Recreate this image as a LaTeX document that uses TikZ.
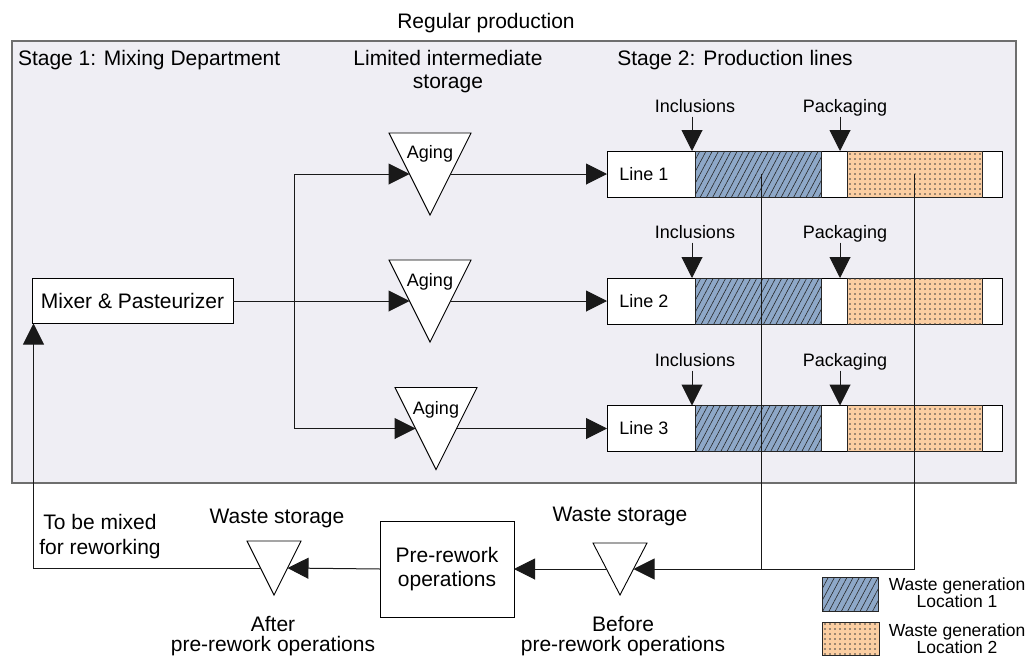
\documentclass[tikz,border=0pt]{standalone}
\usepackage{fontspec}
\setmainfont{Liberation Sans}
\usetikzlibrary{arrows.meta,calc,patterns.meta}

\definecolor{panelfill}{RGB}{239,238,244}
\definecolor{panelrule}{RGB}{110,110,110}
\definecolor{wasteblue}{RGB}{142,168,200}
\definecolor{wasteorange}{RGB}{251,206,162}

\newcommand\lblbig{\fontsize{21}{23}\selectfont}
\newcommand\lblsmall{\fontsize{18}{18}\selectfont}

\begin{document}
\begin{tikzpicture}[x=1pt,y=-1pt,
  every node/.style={outer sep=0pt},
  big/.style={font=\lblbig, inner sep=0pt},
  small/.style={font=\lblsmall, inner sep=0pt},
  panel/.style={draw=panelrule, line width=1.8pt, fill=panelfill, inner sep=0pt},
  box/.style={draw=black, line width=0.9pt, fill=white, inner sep=0pt},
  bar/.style={box, minimum width=395pt, minimum height=46pt},
  hatched/.style={draw=black!85, line width=0.8pt, fill=wasteblue, inner sep=0pt,
    postaction={pattern={Lines[angle=62,distance=5.5pt,line width=0.6pt]}, pattern color=black!85}},
  speckled/.style={draw=black!85, line width=0.8pt, fill=wasteorange, inner sep=0pt,
    postaction={pattern={Dots[radius=0.8pt,distance=5pt]}, pattern color=black!75}},
  slot/.style 2 args={inner sep=0pt, minimum width=#1, minimum height=#2},
  tri/.style={draw=black, line width=0.9pt, fill=white, line join=miter},
  wire/.style={draw=black!90, line width=1pt},
  conn/.style={wire, -{Triangle[length=21pt,width=21pt]}},
]
\useasboundingbox (0,0) rectangle (1029,659);

% regular production area
\node[panel, minimum width=1004pt, minimum height=442pt] (stage) at (514,262) {};
\node[big, anchor=base] (regular) at (486,28.3) {Regular production};
\node[big, anchor=base west] (stageone) at (18,65.5) {Stage 1: Mixing Department};
\node[big, anchor=base] (buffer) at (448,65.5) {Limited intermediate};
\node[big, anchor=base] (buffer2) at (448,88.5) {storage};
\node[big, anchor=base] (stagetwo) at (735,65.5) {Stage 2: Production lines};

% mixer
\node[box, minimum width=201pt, minimum height=45pt, font=\lblbig] (mixer) at (132.5,301) {Mixer \& Pasteurizer};

% aging tanks
\node[slot={82pt}{82pt}] (T1) at (430,174) {};
\node[slot={82pt}{82pt}] (T2) at (430,301) {};
\node[slot={82pt}{82pt}] (T3) at (436,428.5) {};
% waste storage tanks
\node[slot={54pt}{54pt}] (W1) at (274,568) {};
\node[slot={54pt}{52pt}] (W2) at (620,569) {};
\foreach \t in {T1,T2,T3,W1,W2}{
  \filldraw[tri] (\t.north west) -- (\t.north east) -- (\t.south) -- cycle;
  \coordinate (\t-in) at ($(\t.north west)!0.5!(\t.south)$);
  \coordinate (\t-out) at ($(\t.north east)!0.5!(\t.south)$);
}
\node[small, anchor=base] (age1) at (430,158.5) {Aging};
\node[small, anchor=base] (age2) at (430,286) {Aging};
\node[small, anchor=base] (age3) at (436,414) {Aging};

% production lines
\foreach \n/\y in {1/174, 2/301, 3/428.5}{
  \node[bar] (L\n) at (804.5,\y) {};
  \node[hatched, minimum width=126pt, minimum height=46pt] (B\n) at (758,\y) {};
  \node[speckled, minimum width=135pt, minimum height=46pt] (O\n) at (914.5,\y) {};
  \node[small] (name\n) at (644,\y) {Line \n};
}
\foreach \n/\y in {1/112.5, 2/238.5, 3/366.5}{
  \node[small, anchor=base, text depth=4pt] (inc\n) at (695,\y) {Inclusions};
  \node[small, anchor=base, text depth=4pt] (pack\n) at (845,\y) {Packaging};
  \coordinate (incfoot\n) at ([xshift=-3pt]inc\n.south);
  \coordinate (packfoot\n) at ([xshift=-5pt]pack\n.south);
  \draw[conn] (incfoot\n) -- (incfoot\n |- L\n.north);
  \draw[conn] (packfoot\n) -- (packfoot\n |- L\n.north);
}

% mixer to aging tanks to lines
\coordinate (fork) at ($(mixer.east)+(61,0)$);
\draw[conn] (mixer.east) -- (T2-in);
\draw[conn] (fork) |- (T1-in);
\draw[conn] (fork) |- (T3-in);
\foreach \n in {1,2,3}{
  \draw[conn] (T\n-out) -- (L\n.west);
}

% rework loop
\node[box, minimum width=134pt, minimum height=96pt, align=center,
      font=\fontsize{21}{24}\selectfont] (prework) at (447,569) {Pre-rework\\operations};
\coordinate (bluedrop) at ([xshift=3pt]B1.center);
\coordinate (merge) at (bluedrop |- W2-out);
\draw[wire] (bluedrop) -- (merge);
\draw[conn] (O1.center) |- (W2-out);
\draw[conn] (W2-in) -- (prework.east);
\draw[conn] (prework.west) -- (W1-out);
\draw[conn] (W1-in) -| ([xshift=1.5pt]mixer.south west);

\node[big, anchor=base] (wsA) at (277,523) {Waste storage};
\node[big, anchor=base] (wsB) at (620,521.5) {Waste storage};
\node[big, align=center, font=\fontsize{21}{25.5}\selectfont] (remix) at (100,536.5) {To be mixed\\for reworking};
\node[big, align=center, font=\fontsize{21}{20}\selectfont] (after) at (273,636.5) {After\\pre-rework operations};
\node[big, align=center, font=\fontsize{21}{20}\selectfont] (before) at (623,636.5) {Before\\pre-rework operations};

% legend
\node[hatched, minimum width=56pt, minimum height=34pt] (keyA) at (850,594) {};
\node[speckled, minimum width=57pt, minimum height=33pt] (keyB) at (850.5,638.5) {};
\node[small, align=center, font=\fontsize{17.5}{17.7}\selectfont] (keyAtxt) at (957,592.8) {Waste generation\\Location 1};
\node[small, align=center, font=\fontsize{17.5}{17.7}\selectfont] (keyBtxt) at (957,638.8) {Waste generation\\Location 2};
\end{tikzpicture}
\end{document}
